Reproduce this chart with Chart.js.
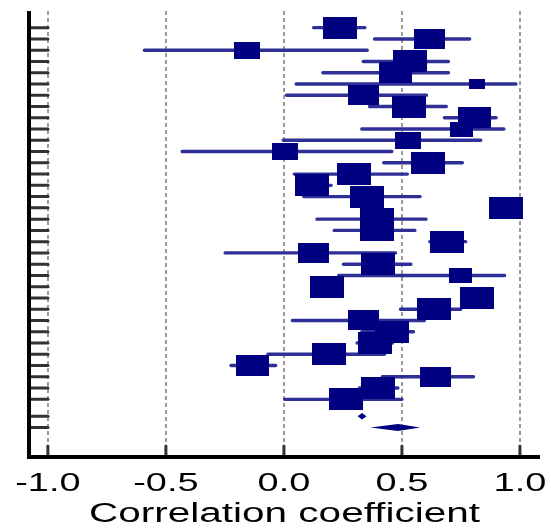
<!DOCTYPE html>
<html>
<head>
<meta charset="utf-8">
<script src="https://cdn.jsdelivr.net/npm/chart.js@4.4.1/dist/chart.umd.min.js"></script>
<style>
  html, body { margin: 0; padding: 0; background: #fff; }
  #wrap { width: 551px; height: 531px; }
</style>
</head>
<body>
<div id="wrap"><canvas id="forest"></canvas></div>
<script>
// studies, top row first
const estimate = [0.238, 0.618, -0.158, 0.536, 0.472, 0.819, 0.338, 0.532, 0.808, 0.752,
                  0.525, 0.004, 0.609, 0.296, 0.118, 0.352, 0.940, 0.393, 0.393, 0.693,
                  0.125, 0.399, 0.750, 0.182, 0.820, 0.634, 0.336, 0.458, 0.386, 0.191,
                  -0.134, 0.642, 0.399, 0.262];
const lower = [0.126, 0.384, -0.591, 0.336, 0.165, 0.052, 0.011, 0.363, 0.680, 0.330,
               -0.003, -0.431, 0.423, 0.044, 0.060, 0.084, 0.910, 0.140, 0.213, 0.618,
               -0.249, 0.252, 0.232, 0.150, 0.790, 0.494, 0.036, 0.330, 0.310, -0.068,
               -0.224, 0.417, 0.320, 0.003];
const upper = [0.343, 0.787, 0.353, 0.697, 0.697, 0.983, 0.604, 0.688, 0.899, 0.932,
               0.834, 0.457, 0.756, 0.523, 0.200, 0.577, 0.970, 0.602, 0.555, 0.770,
               0.473, 0.538, 0.935, 0.210, 0.850, 0.749, 0.595, 0.549, 0.460, 0.426,
               -0.035, 0.803, 0.483, 0.500];
const weight = [4.8, 4.0, 2.9, 4.8, 4.4, 1.0, 4.0, 4.8, 4.6, 2.2,
                3.0, 2.9, 4.8, 4.8, 4.8, 4.8, 4.8, 4.8, 4.8, 4.8,
                4.0, 4.8, 2.2, 4.8, 5.0, 4.8, 4.0, 4.8, 4.8, 4.8,
                4.6, 4.0, 4.8, 4.8];

// pooled estimates (the two diamonds)
const pooledEst = [0.331, 0.483];
const pooledLow = [0.312, 0.367];
const pooledHigh = [0.350, 0.577];

const xTicks = [-1, -0.5, 0, 0.5, 1];
const xTickLabels = ['-1.0', '-0.5', '0.0', '0.5', '1.0'];
const xTitle = 'Correlation coefficient';

const NAVY = '#000080';
const CI_COLOR = '#2f2f98';

// row positions: one per study, then a half-row gap before the pooled rows
const nStudies = estimate.length;
const studyRows = estimate.map((v, i) => i);
const pooledRows = pooledEst.map((v, k) => nStudies + 0.5 + k);
const allRows = studyRows.concat(pooledRows);

// confidence interval segments, broken by null points
const ciPoints = [];
for (let i = 0; i < nStudies; i++) {
  ciPoints.push({x: lower[i], y: studyRows[i]});
  ciPoints.push({x: upper[i], y: studyRows[i]});
  ciPoints.push({x: null, y: null});
}

// box glyphs sized by study weight (stretched wide like the original)
const boxCache = {};
function boxImage(w) {
  if (boxCache[w]) return boxCache[w];
  const h = Math.round(10 * Math.sqrt(w));
  const c = document.createElement('canvas');
  c.width = Math.round(h * 1.55);
  c.height = h;
  const g = c.getContext('2d');
  g.fillStyle = NAVY;
  g.fillRect(0, 0, c.width, c.height);
  boxCache[w] = c;
  return c;
}

const forestDecor = {
  id: 'forestDecor',
  afterDatasetsDraw(chart) {
    const ctx = chart.ctx;
    const xs = chart.scales.x, ys = chart.scales.y;
    // pooled diamonds
    ctx.save();
    ctx.fillStyle = NAVY;
    pooledEst.forEach((e, k) => {
      const yp = ys.getPixelForValue(pooledRows[k]);
      const half = k === 0 ? 3.2 : 3.5;
      ctx.beginPath();
      ctx.moveTo(xs.getPixelForValue(pooledLow[k]), yp);
      ctx.lineTo(xs.getPixelForValue(e), yp - half);
      ctx.lineTo(xs.getPixelForValue(pooledHigh[k]), yp);
      ctx.lineTo(xs.getPixelForValue(e), yp + half);
      ctx.closePath();
      ctx.fill();
    });
    ctx.restore();
  },
  afterDraw(chart) {
    const ctx = chart.ctx;
    const a = chart.chartArea;
    const xs = chart.scales.x, ys = chart.scales.y;
    ctx.save();
    // inward ticks on the y axis
    ctx.strokeStyle = '#333';
    ctx.lineWidth = 3;
    ctx.lineCap = 'round';
    ys.ticks.forEach(t => {
      const yp = ys.getPixelForValue(t.value);
      ctx.beginPath();
      ctx.moveTo(a.left, yp);
      ctx.lineTo(a.left + 19, yp);
      ctx.stroke();
    });
    // inward ticks on the x axis
    xs.ticks.forEach(t => {
      const xp = xs.getPixelForValue(t.value);
      ctx.beginPath();
      ctx.moveTo(xp, a.bottom);
      ctx.lineTo(xp, a.bottom - 11);
      ctx.stroke();
    });
    // axis lines
    ctx.strokeStyle = '#000';
    ctx.lineWidth = 4;
    ctx.lineCap = 'butt';
    ctx.beginPath();
    ctx.moveTo(a.left, a.top);
    ctx.lineTo(a.left, a.bottom);
    ctx.lineTo(a.right, a.bottom);
    ctx.stroke();
    // tick labels and title, horizontally stretched like the source image
    ctx.fillStyle = '#000';
    ctx.textAlign = 'center';
    ctx.textBaseline = 'alphabetic';
    ctx.font = '25px "Liberation Sans", Arial, sans-serif';
    xs.ticks.forEach((t, i) => {
      ctx.save();
      ctx.translate(xs.getPixelForValue(t.value), a.bottom + 34);
      ctx.scale(1.52, 1);
      ctx.fillText(xTickLabels[i], 0, 0);
      ctx.restore();
    });
    ctx.font = '27px "Liberation Sans", Arial, sans-serif';
    ctx.translate((a.left + a.right) / 2, a.bottom + 65);
    ctx.scale(1.5, 1);
    ctx.fillText(xTitle, 0, 0);
    ctx.restore();
  }
};

new Chart(document.getElementById('forest'), {
  type: 'scatter',
  data: {
    datasets: [
      {
        label: 'Study estimate',
        data: estimate.map((v, i) => ({x: v, y: studyRows[i]})),
        pointStyle: c => boxImage(weight[c.dataIndex]),
        pointRadius: 10,
        pointHoverRadius: 10,
        order: 0
      },
      {
        label: '95% CI',
        data: ciPoints,
        showLine: true,
        spanGaps: false,
        borderColor: CI_COLOR,
        borderWidth: 3.4,
        borderCapStyle: 'round',
        pointRadius: 0,
        pointHoverRadius: 0,
        order: 1
      }
    ]
  },
  options: {
    responsive: true,
    maintainAspectRatio: false,
    animation: false,
    layout: { padding: { left: 29, top: 10, right: 9, bottom: 74 } },
    plugins: {
      legend: { display: false },
      tooltip: { enabled: false }
    },
    scales: {
      x: {
        type: 'linear',
        min: -1.08,
        max: 1.085,
        afterBuildTicks: s => { s.ticks = xTicks.map(v => ({value: v})); },
        ticks: { display: false },
        grid: { color: '#9a9a9a', lineWidth: 2, drawTicks: false },
        border: { display: false, dash: [4, 3] }
      },
      y: {
        type: 'linear',
        reverse: true,
        min: -1.48,
        max: 38.12,
        afterBuildTicks: s => { s.ticks = allRows.map(v => ({value: v})); },
        ticks: { display: false },
        grid: { display: false, drawTicks: false },
        border: { display: false }
      }
    }
  },
  plugins: [forestDecor]
});
</script>
</body>
</html>
